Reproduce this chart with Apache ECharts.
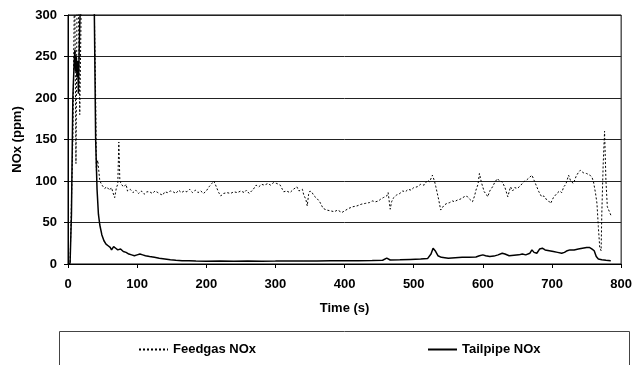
<!DOCTYPE html>
<html>
<head>
<meta charset="utf-8">
<script src="https://cdn.jsdelivr.net/npm/echarts@6/dist/echarts.min.js"></script>
<style>
  html, body { margin: 0; padding: 0; background: #fff; }
  #chart { width: 635px; height: 365px; }
</style>
</head>
<body>
<div id="chart"></div>
<script>
// readings, time in seconds
const feedTime = [0, 3, 5, 7, 9, 10, 11.5, 13, 15, 17, 19, 22, 26, 30, 34, 38, 40, 41, 43, 46, 50, 53, 56, 60, 63, 65, 67.5, 70, 72, 73.5, 75, 78, 81, 84, 86, 90, 94, 98, 102, 106, 110, 114, 118, 122, 126, 130, 134, 137, 140, 144, 148, 152, 156, 160, 164, 168, 172, 176, 180, 184, 188, 192, 196, 200, 204, 208, 211, 214, 218, 221, 225, 230, 235, 240, 245, 250, 255, 258, 262, 264, 268, 272, 276, 280, 284, 289, 293, 297, 302, 307, 310, 312, 316, 321, 326, 331, 334, 336, 339, 341, 344, 346, 348, 350, 353, 356, 360, 364, 369, 374, 380, 385, 390, 396, 400, 406, 412, 418, 424, 430, 436, 440, 445, 449, 452, 456, 458, 461, 463, 466, 468, 471, 475, 480, 484, 488, 492, 496, 500, 505, 510, 515, 520, 523, 527, 530, 532, 536, 539, 544, 548, 552, 556, 559, 563, 567, 571, 575, 578, 581, 585, 588, 590, 593, 595, 598, 602, 605, 607, 610, 614, 617, 621, 624, 628, 632, 636, 640, 643, 646, 650, 655, 659, 663, 667, 671, 674, 678, 681, 685, 688, 690, 694, 698, 702, 707, 711, 714, 717, 720, 724, 727, 731, 735, 738, 741, 745, 750, 755, 758, 760, 763, 765, 767, 769, 771, 772, 774, 776, 778, 780, 783, 786];
const feedNox = [0, 0, 2, 150, 305, 310, 121, 305, 310, 180, 305, 310, 310, 310, 310, 310, 200, 113, 125, 100, 94, 91, 93, 89, 92, 86, 80, 92, 96, 147, 100, 95, 93, 96, 88, 90, 86, 89, 85, 88, 84, 87, 87, 85, 88, 86, 84, 83, 87, 86, 88, 87, 85, 89, 86, 88, 87, 90, 86, 89, 86, 88, 85, 88, 93, 97, 100, 94, 86, 82, 85, 86, 85, 87, 86, 88, 86, 89, 85, 83, 90, 95, 93, 96, 95, 97, 95, 98, 97, 95, 90, 87, 88, 86, 90, 93, 88, 86, 90, 83, 78, 70, 84, 88, 86, 82, 79, 75, 67, 65, 64, 63, 65, 62, 64, 67, 69, 70, 72, 73, 74, 76, 75, 76, 78, 80, 78, 82, 86, 66, 75, 80, 83, 85, 88, 87, 90, 89, 92, 93, 96, 95, 101, 99, 107, 100, 93, 78, 65, 71, 73, 74, 76, 75, 77, 78, 80, 82, 81, 78, 75, 82, 89, 96, 109, 98, 87, 84, 81, 88, 93, 98, 103, 100, 99, 92, 81, 93, 88, 92, 91, 95, 99, 101, 104, 107, 101, 93, 87, 81, 82, 79, 77, 73, 80, 85, 88, 86, 93, 96, 107, 100, 97, 106, 110, 113, 110, 109, 107, 104, 99, 85, 73, 45, 20, 16, 60, 120, 160, 100, 69, 63, 57];

const tailTime = [0, 3, 5, 7, 9, 10, 11, 12, 13, 14, 15, 16, 17, 18, 22, 26, 30, 34, 38, 40, 42, 44, 46, 49, 52, 55, 58, 61, 63, 66, 69, 72, 76, 80, 84, 88, 92, 96, 100, 104, 108, 112, 118, 125, 132, 140, 148, 156, 165, 175, 185, 200, 220, 240, 260, 280, 300, 320, 340, 360, 380, 400, 420, 440, 455, 461, 466, 480, 495, 510, 520, 525, 528, 531, 535, 540, 550, 560, 570, 580, 590, 595, 600, 604, 610, 616, 622, 628, 632, 638, 645, 652, 657, 662, 668, 671, 674, 678, 682, 686, 690, 696, 702, 708, 714, 718, 722, 726, 732, 738, 744, 750, 754, 758, 761, 764, 767, 772, 778, 785];
const tailNox = [0, 1, 60, 200, 245, 258, 232, 250, 225, 245, 205, 250, 290, 310, 310, 310, 310, 310, 310, 149, 90, 60, 47, 35, 28, 24, 22, 20, 17, 21, 19, 17, 18, 15, 14, 12, 11, 10, 11, 12, 11, 10, 9, 8, 7, 6, 5, 4.5, 4, 3.8, 3.5, 3.4, 3.5, 3.2, 3.6, 3.4, 3.5, 3.7, 3.6, 3.5, 3.8, 4, 4, 4.2, 4.5, 7, 4.8, 5, 5.5, 6, 6.5, 12, 19, 16, 10, 8, 7, 7.5, 8, 8, 8.5, 10, 11, 10, 9, 9.5, 11, 13, 12, 10, 10.5, 11, 12, 11, 13, 17, 14, 13, 18, 19, 17, 16, 15, 14, 13, 14, 16, 17, 17, 18, 19, 20, 20, 18, 16, 9, 6, 5, 4.5, 4];

const yTicks = [0, 50, 100, 150, 200, 250, 300];
const xTicks = [0, 100, 200, 300, 400, 500, 600, 700, 800];

const font = "Arial, 'Liberation Sans', sans-serif";

const pairs = (ts, vs) => ts.map((t, i) => [t, vs[i]]);

// legend shows only the line, no marker
const legendBase = {
    top: 343, padding: 0,
    itemWidth: 29, itemHeight: 14, itemGap: 4,
    itemStyle: { color: 'rgba(0,0,0,0)', borderWidth: 0, opacity: 0 },
    textStyle: { fontWeight: 'bold', fontSize: 13, color: '#000' }
};

const chart = echarts.init(document.getElementById('chart'));

chart.setOption({
    animation: false,
    backgroundColor: '#fff',
    textStyle: { fontFamily: font },
    grid: {
        left: 68, top: 15, right: 10, bottom: 101,
        show: true, borderColor: '#000', borderWidth: 1
    },
    xAxis: {
        type: 'value',
        min: xTicks[0], max: xTicks[xTicks.length - 1], interval: 100,
        name: 'Time (s)', nameLocation: 'middle', nameGap: 38,
        nameTextStyle: { fontWeight: 'bold', fontSize: 13, color: '#000' },
        axisLine: { lineStyle: { color: '#000' } },
        axisTick: { length: 4, lineStyle: { color: '#000' } },
        axisLabel: { margin: 14, fontWeight: 'bold', fontSize: 13, color: '#000' },
        splitLine: { show: false }
    },
    yAxis: {
        type: 'value',
        min: yTicks[0], max: yTicks[yTicks.length - 1], interval: 50,
        name: 'NOx (ppm)', nameLocation: 'middle', nameGap: 41,
        nameTextStyle: { fontWeight: 'bold', fontSize: 13, color: '#000' },
        axisLine: { show: true, lineStyle: { color: '#000' } },
        axisTick: { show: true, length: 4, lineStyle: { color: '#000' } },
        axisLabel: { margin: 11, fontWeight: 'bold', fontSize: 13, color: '#000' },
        splitLine: { lineStyle: { color: '#222', width: 1 } }
    },
    legend: [
        Object.assign({ data: ['Feedgas NOx'], left: 138 }, legendBase),
        Object.assign({ data: ['Tailpipe NOx'], left: 427 }, legendBase)
    ],
    graphic: [{
        type: 'rect', left: 57, top: 329,
        shape: { width: 570, height: 60 },
        style: { fill: 'none', stroke: '#444', lineWidth: 1 }
    }],
    series: [
        {
            name: 'Feedgas NOx', type: 'line', symbol: 'none', clip: true,
            data: pairs(feedTime, feedNox),
            lineStyle: { color: '#000', width: 1, type: [2, 2] },
            itemStyle: { color: '#000' }
        },
        {
            name: 'Tailpipe NOx', type: 'line', symbol: 'none', clip: true,
            data: pairs(tailTime, tailNox),
            lineStyle: { color: '#000', width: 1.5 },
            itemStyle: { color: '#555' }
        }
    ]
});
</script>
</body>
</html>
